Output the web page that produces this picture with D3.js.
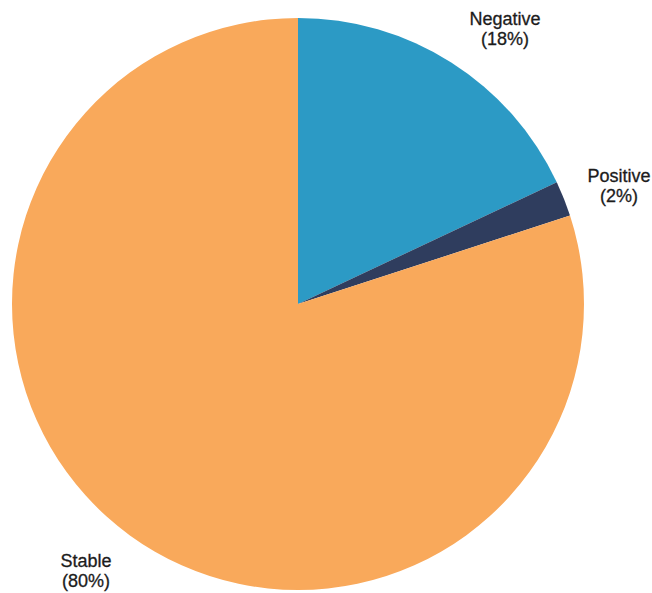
<!DOCTYPE html>
<html>
<head>
<meta charset="utf-8">
<script src="https://cdn.jsdelivr.net/npm/d3@7"></script>
<style>
  body { margin: 0; background: #fff; }
</style>
</head>
<body>
<script>
const categories = ["Negative", "Positive", "Stable"];
const shares = [18, 2, 80];
const colors = ["#2c9ac5", "#2f3d5e", "#f9a95b"];

const width = 652;
const height = 593;
const cx = 298;
const cy = 304;
const radius = 286;

const data = categories.map((c, i) => ({ name: c, value: shares[i], color: colors[i] }));

const svg = d3.select("body").append("svg")
  .attr("width", width)
  .attr("height", height);

const pie = d3.pie().sort(null).value((d) => d.value);
const arc = d3.arc().innerRadius(0).outerRadius(radius);

const g = svg.append("g").attr("transform", `translate(${cx} ${cy})`);

g.selectAll("path")
  .data(pie(data))
  .enter()
  .append("path")
  .attr("d", arc)
  .attr("fill", (d) => d.data.color);

// label positions (outside the pie), baseline of first line
const labelPos = {
  Negative: [505, 25],
  Positive: [619, 182],
  Stable: [86, 567],
};

const labels = svg.append("g")
  .attr("font-family", "Liberation Sans, Arial, sans-serif")
  .attr("font-size", "18")
  .attr("fill", "#1c1c1c")
  .attr("stroke", "#1c1c1c")
  .attr("stroke-width", "0.3")
  .attr("text-anchor", "middle");

data.forEach((d) => {
  const [x, y] = labelPos[d.name];
  const t = labels.append("text").attr("x", x).attr("y", y);
  t.append("tspan").attr("x", x).text(d.name);
  t.append("tspan").attr("x", x).attr("dy", "20").text(`(${d.value}%)`);
});
</script>
</body>
</html>
